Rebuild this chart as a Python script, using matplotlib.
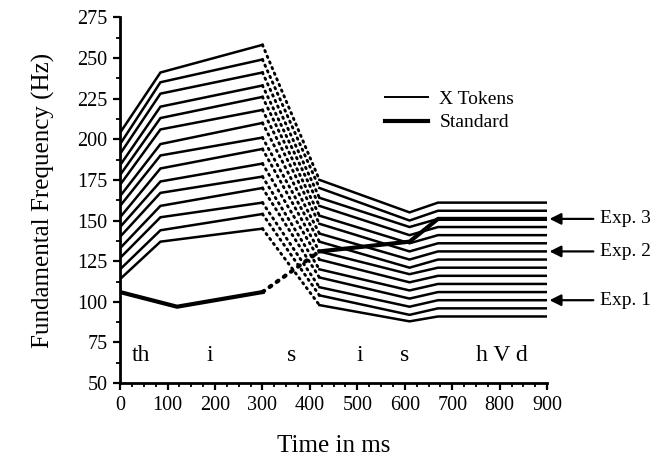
import matplotlib
matplotlib.use('Agg')
import matplotlib.pyplot as plt
from matplotlib.lines import Line2D
from matplotlib.ticker import MultipleLocator

plt.rcParams['font.family'] = ['Liberation Serif', 'DejaVu Serif']

# time points (ms) where the contours bend
times = [0, 85, 300, 420, 610, 670, 900]

# X token F0 values (Hz) at each time point, bottom token to top token
f_onset = [114, 120, 127, 133, 140, 146, 152, 159, 165, 172, 178, 184, 191, 197, 204]
f_knee = [137, 144, 152, 159, 167, 174, 182, 190, 197, 206, 213, 220, 228, 235, 241]
f_vowel_end = [145, 154, 161, 170, 177, 185, 194, 201, 210, 218, 226, 233, 241, 249, 258]
f_s_end = [98, 104, 109, 115, 120, 126, 131, 137, 142, 148, 153, 159, 164, 170, 175]
f_dip = [88, 92, 97, 102, 107, 112, 117, 121, 126, 131, 136, 141, 146, 150, 155]
f_final = [91, 96, 101, 106, 111, 116, 121, 126, 131, 136, 141, 146, 151, 156, 161]

# standard contour
std_times = [0, 120, 300, 420, 610, 670, 900]
std_f = [106, 97, 106, 131, 137, 151, 151]

# segment labels
seg_labels = ['th', 'i', 's', 'i', 's', 'h V d']
seg_pos = [45, 190, 362, 506, 600, 805]

exp_labels = ['Exp. 3', 'Exp. 2', 'Exp. 1']
exp_f = [151, 131, 101]

fig = plt.figure(figsize=(6.6, 4.65), dpi=100)
ax = fig.add_axes([0.182, 0.176, 0.647, 0.787])

tok_lw = 1.8
std_lw = 3.0
dot = (0, (0.5, 1.6))

for k in range(len(f_onset)):
    vals = [f_onset[k], f_knee[k], f_vowel_end[k], f_s_end[k], f_dip[k], f_final[k], f_final[k]]
    ax.plot(times[:3], vals[:3], color='k', lw=tok_lw, solid_joinstyle='miter')
    ax.plot(times[2:4], vals[2:4], color='k', lw=tok_lw + 0.3, linestyle=dot,
            dash_capstyle='round')
    ax.plot(times[3:], vals[3:], color='k', lw=tok_lw, solid_joinstyle='miter')

ax.plot(std_times[:3], std_f[:3], color='k', lw=std_lw)
ax.plot(std_times[2:4], std_f[2:4], color='k', lw=std_lw, linestyle=dot, dash_capstyle='round')
ax.plot(std_times[3:], std_f[3:], color='k', lw=std_lw)

for lab, x in zip(seg_labels, seg_pos):
    ax.text(x, 67, lab, ha='center', va='center', fontsize=17)

for lab, f in zip(exp_labels, exp_f):
    ax.annotate(lab, xy=(905, f), xytext=(1012, f), ha='left', va='center', fontsize=14,
                annotation_clip=False,
                arrowprops=dict(arrowstyle='-|>', color='k', lw=1.6, mutation_scale=17,
                                shrinkA=3, shrinkB=0))

handles = [Line2D([], [], color='k', lw=1.4), Line2D([], [], color='k', lw=3.0)]
ax.legend(handles, ['X Tokens', 'Standard'], loc='upper left', bbox_to_anchor=(0.62, 0.80),
          frameon=False, fontsize=14, handlelength=2.2, handletextpad=0.6,
          labelspacing=0.3, borderpad=0, borderaxespad=0)

ax.set_xlim(0, 900)
ax.set_ylim(50, 275)
ax.xaxis.set_major_locator(MultipleLocator(100))
ax.xaxis.set_minor_locator(MultipleLocator(25))
ax.yaxis.set_major_locator(MultipleLocator(25))
ax.yaxis.set_minor_locator(MultipleLocator(12.5))
ax.tick_params(which='major', direction='out', length=5, width=1.6, labelsize=14.5, pad=4)
ax.tick_params(which='minor', direction='out', length=3, width=1.3)
for s in ['top', 'right']:
    ax.spines[s].set_visible(False)
for s in ['left', 'bottom']:
    ax.spines[s].set_linewidth(2.0)

ax.set_xlabel('Time in ms', fontsize=18, labelpad=15)
ax.set_ylabel('Fundamental Frequency (Hz)', fontsize=18, labelpad=16)

fig.savefig('out.png', dpi=100)
